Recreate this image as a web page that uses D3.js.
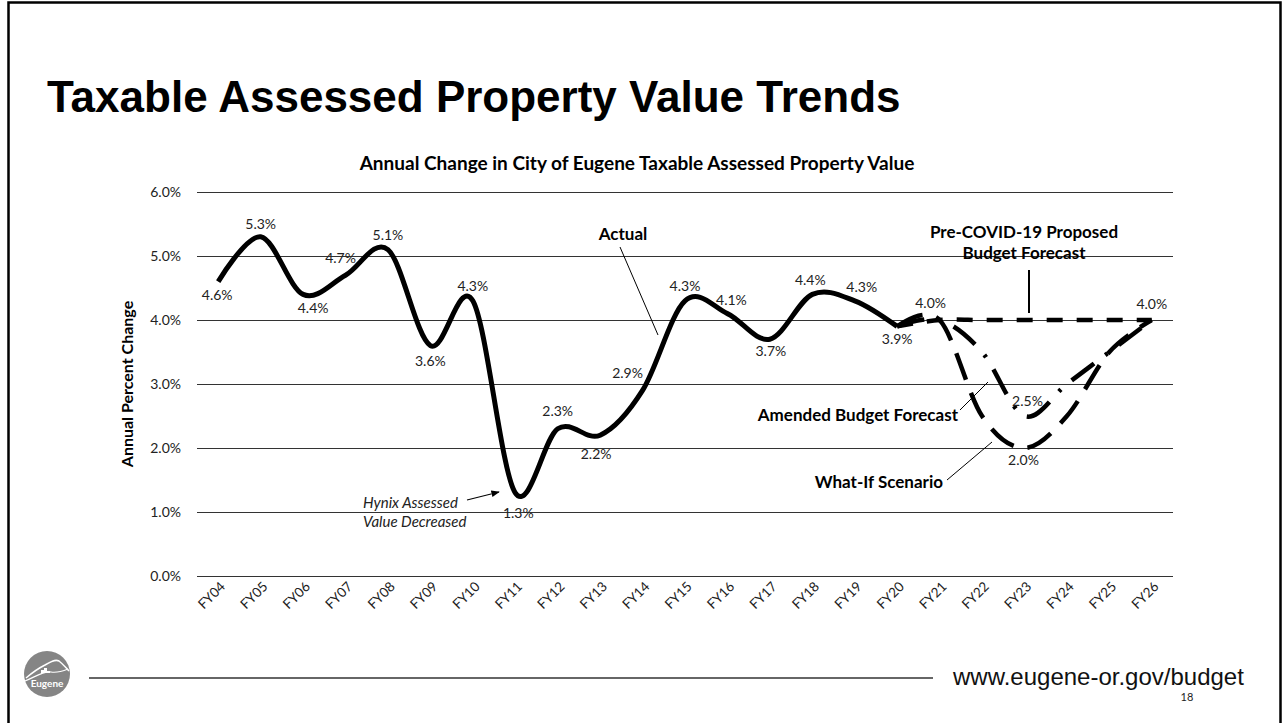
<!DOCTYPE html>
<html>
<head>
<meta charset="utf-8">
<script src="https://cdn.jsdelivr.net/npm/d3@7/dist/d3.min.js"></script>
<style>
  body { margin: 0; background: #fff; }
  svg { display: block; }
</style>
</head>
<body>
<svg id="chart" width="1283" height="723"></svg>
<script>
// chart data
var categories = ["FY04","FY05","FY06","FY07","FY08","FY09","FY10","FY11","FY12","FY13","FY14",
                  "FY15","FY16","FY17","FY18","FY19","FY20","FY21","FY22","FY23","FY24","FY25","FY26"];
var actualYears = categories.slice(0, 17);
var actualValues = [4.6, 5.3, 4.4, 4.7, 5.1, 3.6, 4.3, 1.3, 2.3, 2.2, 2.9, 4.3, 4.1, 3.7, 4.4, 4.3, 3.9];
var forecastYears = categories.slice(16);
var preCovidValues = [3.9, 4.0, 4.0, 4.0, 4.0, 4.0, 4.0];
var amendedValues  = [3.9, 4.0, 3.5, 2.5, 3.0, 3.5, 4.0];
var whatIfValues   = [3.9, 4.0, 2.5, 2.0, 2.5, 3.5, 4.0];
var yTicks = [0, 1, 2, 3, 4, 5, 6];

var svg = d3.select("#chart");
var plot = {left: 197, right: 1173, top: 192, bottom: 576};

var x = d3.scalePoint().domain(categories).range([plot.left, plot.right]).padding(0.5);
var y = d3.scaleLinear().domain([0, 6]).range([plot.bottom, plot.top]);
var pct = function(v) { return v.toFixed(1) + "%"; };

// slide frame
svg.append("rect").attr("x", 8.5).attr("y", 2.5).attr("width", 1272).attr("height", 740)
  .attr("fill", "none").attr("stroke", "#000").attr("stroke-width", 2.5);

svg.append("text").attr("x", 47).attr("y", 112)
  .attr("font-family", "Liberation Sans, Arial, sans-serif").attr("font-weight", "bold")
  .attr("font-size", 44).text("Taxable Assessed Property Value Trends");

svg.append("text").attr("x", 637).attr("y", 163).attr("dy", "0.35em").attr("text-anchor", "middle")
  .attr("font-family", "Lato, sans-serif").attr("font-weight", "bold").attr("font-size", 19)
  .text("Annual Change in City of Eugene Taxable Assessed Property Value");

// y gridlines + labels
var yAxis = svg.append("g")
  .attr("transform", "translate(" + plot.left + ",0)")
  .call(d3.axisLeft(y).tickValues(yTicks).tickSize(-(plot.right - plot.left)).tickPadding(16).tickFormat(pct));
yAxis.select(".domain").remove();
yAxis.selectAll(".tick line").attr("stroke", "#333").attr("stroke-width", 1.2);
yAxis.selectAll(".tick text").attr("font-family", "Lato, sans-serif").attr("font-size", 14).attr("fill", "#222");

svg.append("text")
  .attr("transform", "translate(127," + ((plot.top + plot.bottom) / 2) + ") rotate(-90)")
  .attr("text-anchor", "middle").attr("dy", "0.35em")
  .attr("font-family", "Lato, sans-serif").attr("font-weight", "bold").attr("font-size", 16)
  .text("Annual Percent Change");

// x labels, rotated
var xAxis = svg.append("g")
  .attr("transform", "translate(0," + plot.bottom + ")")
  .call(d3.axisBottom(x).tickSize(0));
xAxis.select(".domain").remove();
xAxis.selectAll(".tick text")
  .attr("font-family", "Lato, sans-serif").attr("font-size", 13.5).attr("fill", "#222")
  .attr("text-anchor", "end").attr("dy", "0.35em").attr("y", 0)
  .attr("transform", "translate(4,8) rotate(-45)");

var curve = d3.curveCardinal.tension(0);
var lineA = d3.line().x(function(d) { return x(d.k); }).y(function(d) { return y(d.v); }).curve(curve);
function series(keys, vals) { return keys.map(function(k, i) { return {k: k, v: vals[i]}; }); }

svg.append("path").datum(series(forecastYears, whatIfValues))
  .attr("d", lineA).attr("fill", "none").attr("stroke", "#000").attr("stroke-width", 4.5)
  .attr("stroke-dasharray", "28,14");
svg.append("path").datum(series(forecastYears, amendedValues))
  .attr("d", lineA).attr("fill", "none").attr("stroke", "#000").attr("stroke-width", 4.5)
  .attr("stroke-dasharray", "28,14,3,14");
svg.append("path").datum(series(forecastYears, preCovidValues))
  .attr("d", lineA).attr("fill", "none").attr("stroke", "#000").attr("stroke-width", 4.5)
  .attr("stroke-dasharray", "16,14");
svg.append("path").datum(series(actualYears, actualValues))
  .attr("d", lineA).attr("fill", "none").attr("stroke", "#000").attr("stroke-width", 5)
  .attr("stroke-linejoin", "round");

// data labels: offsets from each point
var labelFont = {family: "Lato, sans-serif", size: 14};
var actualOffsets = [[-1,13],[0,-13],[10,14],[-5,-17],[0,-15],[0,15],[0,-15],[3,20],[0,-18],[-4,19],
                     [-15,-17],[0,-15],[4,-14],[1,12],[-2,-14],[7,-14],[0,13]];
var labels = actualYears.map(function(k, i) {
  return {k: k, v: actualValues[i], dx: actualOffsets[i][0], dy: actualOffsets[i][1]};
});
labels.push({k: "FY21", v: preCovidValues[1], dx: -9, dy: -17});
labels.push({k: "FY26", v: preCovidValues[6], dx: 0, dy: -16});
labels.push({k: "FY23", v: amendedValues[3], dx: 3, dy: -15});
labels.push({k: "FY23", v: whatIfValues[3], dx: -1, dy: 12});

svg.append("g").selectAll("text").data(labels).enter().append("text")
  .attr("x", function(d) { return x(d.k) + d.dx; })
  .attr("y", function(d) { return y(d.v) + d.dy; })
  .attr("dy", "0.35em").attr("text-anchor", "middle")
  .attr("font-family", labelFont.family).attr("font-size", labelFont.size).attr("fill", "#222")
  .text(function(d) { return pct(d.v); });

// annotations
var ann = svg.append("g").attr("font-family", "Lato, sans-serif").attr("font-weight", "bold").attr("font-size", 17);
ann.append("text").attr("x", 623).attr("y", 234).attr("dy", "0.35em").attr("text-anchor", "middle").text("Actual");
ann.append("text").attr("x", 1024).attr("y", 232).attr("dy", "0.35em").attr("text-anchor", "middle").text("Pre-COVID-19 Proposed");
ann.append("text").attr("x", 1024).attr("y", 253).attr("dy", "0.35em").attr("text-anchor", "middle").text("Budget Forecast");
ann.append("text").attr("x", 958).attr("y", 415).attr("dy", "0.35em").attr("text-anchor", "end").text("Amended Budget Forecast");
ann.append("text").attr("x", 943).attr("y", 482).attr("dy", "0.35em").attr("text-anchor", "end").text("What-If Scenario");

var leaders = [[620,247,658,335,1],[1029,270,1029,313,2],[960,410,988,382,1],[947,480,992,442,1]];
svg.append("g").selectAll("line").data(leaders).enter().append("line")
  .attr("x1", function(d) { return d[0]; }).attr("y1", function(d) { return d[1]; })
  .attr("x2", function(d) { return d[2]; }).attr("y2", function(d) { return d[3]; })
  .attr("stroke", "#000").attr("stroke-width", function(d) { return d[4]; });

var hyn = svg.append("g").attr("font-family", "Lato, sans-serif").attr("font-style", "italic").attr("font-size", 15).attr("fill", "#222");
hyn.append("text").attr("x", 363).attr("y", 503).attr("dy", "0.35em").text("Hynix Assessed");
hyn.append("text").attr("x", 363).attr("y", 522).attr("dy", "0.35em").text("Value Decreased");
svg.append("defs").append("marker").attr("id", "arr").attr("viewBox", "0 0 10 10")
  .attr("refX", 9).attr("refY", 5).attr("markerWidth", 7).attr("markerHeight", 7).attr("orient", "auto")
  .append("path").attr("d", "M0,1L10,5L0,9z").attr("fill", "#000");
svg.append("line").attr("x1", 467).attr("y1", 500).attr("x2", 499).attr("y2", 492)
  .attr("stroke", "#000").attr("stroke-width", 1.2).attr("marker-end", "url(#arr)");

// footer
svg.append("line").attr("x1", 89).attr("x2", 933).attr("y1", 678).attr("y2", 678)
  .attr("stroke", "#333").attr("stroke-width", 1.5);
svg.append("text").attr("x", 953).attr("y", 685)
  .attr("font-family", "Liberation Sans, Arial, sans-serif").attr("font-size", 24).attr("fill", "#111")
  .text("www.eugene-or.gov/budget");
svg.append("text").attr("x", 1187).attr("y", 697).attr("dy", "0.35em").attr("text-anchor", "middle")
  .attr("font-family", "Lato, sans-serif").attr("font-size", 11).attr("fill", "#222").text("18");

var logo = svg.append("g").attr("transform", "translate(47,674)");
logo.append("circle").attr("r", 23).attr("fill", "#858585");
logo.append("path").attr("d", "M-21,4 C-14,-2 -8,-6 -2,-9 C3,-12 8,-15 12,-13 C16,-10 19,-6 22,-3")
  .attr("fill", "none").attr("stroke", "#fff").attr("stroke-width", 1.5);
logo.append("path").attr("d", "M-22,7 C-12,3 -4,-3 4,-2 C10,-1 16,-3 21,-5")
  .attr("fill", "none").attr("stroke", "#fff").attr("stroke-width", 1.2);
logo.append("path").attr("d", "M-6,-1 L-6,-4 L-3,-4 L-3,-6 L0,-6 L0,-3 L3,-3 L3,-1z").attr("fill", "#fff");
logo.append("text").attr("y", 13).attr("text-anchor", "middle").attr("font-family", "Lato, sans-serif")
  .attr("font-weight", "bold").attr("font-size", 10).attr("fill", "#fff").text("Eugene");
</script>
</body>
</html>
